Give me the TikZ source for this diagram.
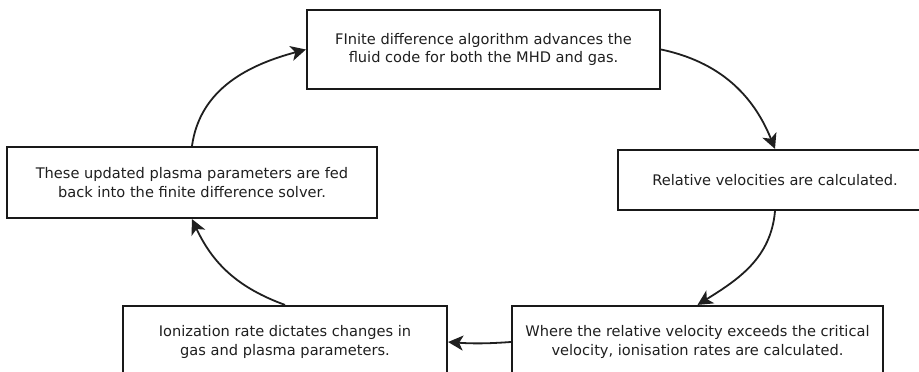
\documentclass[tikz,border=0pt]{standalone}
\usepackage{fontspec}
\setmainfont{DejaVu Sans}
\usetikzlibrary{arrows.meta}
\begin{document}
\begin{tikzpicture}[x=1pt,y=1pt,
  stepbox/.style={draw=black!90, line width=2.2pt, align=center, inner sep=0pt,
    font=\fontsize{14.6}{18.6}\selectfont, text=black!88},
  flow/.style={line width=1.8pt, draw=black!88,
    -{Stealth[length=15pt,width=15pt,inset=4pt]}}]
\clip (0,0) rectangle (919,-372);
\fill[white] (0,0) rectangle (919,-372);
\node[stepbox, minimum width=353pt, minimum height=79pt] (top) at (483.5,-49.5)
  {FInite difference algorithm advances the\\fluid code for both the MHD and gas.};
\node[stepbox, minimum width=314pt, minimum height=60pt] (rb) at (775,-180)
  {Relative velocities are calculated.};
\node[stepbox, minimum width=371pt, minimum height=72pt] (br) at (697.5,-342)
  {Where the relative velocity exceeds the critical\\velocity, ionisation rates are calculated.};
\node[stepbox, minimum width=324pt, minimum height=72pt] (bl) at (285,-342)
  {Ionization rate dictates changes in\\gas and plasma parameters.};
\node[stepbox, minimum width=370pt, minimum height=71pt] (lb) at (192,-182.5)
  {These updated plasma parameters are fed\\back into the finite difference solver.};
\draw[flow] (top.east) to[out=-12,in=112] (rb.north);
\draw[flow] (rb.south) to[out=-95,in=32] (br.north);
\draw[flow] (br.west) to[bend left=4] (bl.east);
\draw[flow] (bl.north) to[out=160,in=-65] (lb.south);
\draw[flow] (lb.north) to[out=82,in=195] (top.west);
\end{tikzpicture}
\end{document}
